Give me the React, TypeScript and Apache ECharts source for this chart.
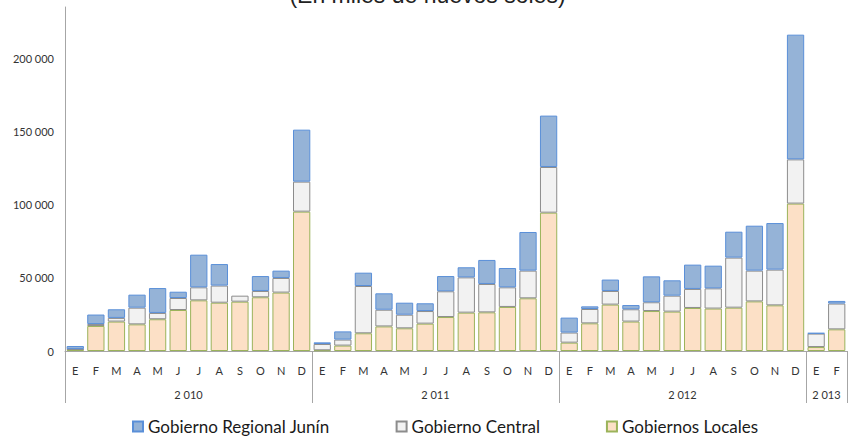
import React, { useEffect, useRef } from "react";
import * as echarts from "echarts";

const months = [
  "E","F","M","A","M","J","J","A","S","O","N","D",
  "E","F","M","A","M","J","J","A","S","O","N","D",
  "E","F","M","A","M","J","J","A","S","O","N","D",
  "E","F",
];
const years = ["2 010", "2 011", "2 012", "2 013"];
const yearBoundaries = [0, 12, 24, 36, 38];
const yearCenters = [6, 18, 30, 37];

const gobiernosLocales = [
  1000, 17100, 20100, 18200, 21700, 28000, 34600, 33000, 33700, 36700, 39900, 95200,
  500, 3700, 12100, 16800, 15500, 18700, 23200, 26200, 26400, 30100, 36000, 94500,
  5700, 18900, 31700, 20100, 27300, 26900, 29400, 29000, 29600, 33900, 31200, 100700,
  2700, 14800,
];
const gobiernoCentral = [
  300, 1300, 2500, 11400, 4300, 8200, 8900, 11700, 4100, 4300, 10000, 20500,
  4300, 4100, 32300, 11400, 9300, 8600, 17600, 24100, 19400, 13400, 18900, 31200,
  6900, 9800, 9300, 8400, 6000, 10900, 13000, 13800, 34200, 21000, 24400, 30200,
  9200, 17600,
];
const gobiernoRegional = [
  2100, 6500, 5900, 8900, 17000, 4300, 22300, 14700, -1400, 10200, 5000, 35500,
  1100, 5600, 9100, 11200, 8200, 5300, 10400, 6900, 16400, 13200, 26400, 35100,
  10200, 1800, 7800, 2900, 17700, 10500, 16600, 15500, 17700, 30700, 31800, 85200,
  400, 1800,
];

const fmt = (v: number) => {
  const s = String(Math.round(v));
  return s.replace(/\B(?=(\d{3})+(?!\d))/g, " ");
};

export default function App() {
  const ref = useRef<HTMLDivElement>(null);
  useEffect(() => {
    if (!ref.current) return;
    const chart = echarts.init(ref.current, null, { renderer: "svg" });
    const axisGray = "#a6a6a6";
    const labelFont = "Lato, 'Noto Sans', sans-serif";
    chart.setOption({
      animation: false,
      backgroundColor: "#ffffff",
      graphic: [
        {
          type: "text",
          left: "center",
          top: -17,
          style: {
            text: "(En miles de nuevos soles)",
            font: "23px 'Liberation Sans', Arial, sans-serif",
            fill: "#222222",
          },
        },
      ],
      legend: {
        left: 132,
        top: 418,
        padding: 0,
        icon: "rect",
        itemWidth: 10,
        itemHeight: 10,
        itemGap: 66,
        textStyle: { fontFamily: labelFont, fontSize: 17, color: "#1a1a1a" },
        data: ["Gobierno Regional Junín", "Gobierno Central", "Gobiernos Locales"],
      },
      grid: { left: 65, right: 8, top: 7, bottom: 88, containLabel: false },
      xAxis: [
        {
          type: "category",
          data: months,
          boundaryGap: true,
          position: "bottom",
          axisLine: { show: true, lineStyle: { color: axisGray, width: 1 } },
          axisTick: { show: false },
          axisLabel: {
            interval: 0,
            margin: 14,
            fontFamily: labelFont,
            fontSize: 11,
            color: "#333333",
          },
        },
        {
          type: "value",
          min: 0,
          max: 38,
          position: "bottom",
          axisLine: { show: false },
          splitLine: { show: false },
          axisTick: {
            show: true,
            inside: false,
            length: 52,
            customValues: yearBoundaries,
            lineStyle: { color: axisGray, width: 1 },
          },
          axisLabel: {
            show: true,
            customValues: yearCenters,
            margin: 38,
            fontFamily: labelFont,
            fontSize: 11,
            color: "#333333",
            formatter: (v: number) => {
              const i = yearCenters.indexOf(v);
              return i >= 0 ? years[i] : "";
            },
          },
        },
      ],
      yAxis: {
        type: "value",
        min: 0,
        max: 235000,
        interval: 50000,
        axisLine: { show: true, lineStyle: { color: axisGray, width: 1 } },
        axisTick: { show: false },
        splitLine: { show: false },
        axisLabel: {
          showMaxLabel: false,
          margin: 11,
          fontFamily: labelFont,
          fontSize: 11,
          color: "#333333",
          formatter: (v: number) => (v % 50000 === 0 ? fmt(v) : ""),
        },
      },
      series: [
        {
          name: "Gobiernos Locales",
          type: "bar",
          stack: "total",
          xAxisIndex: 0,
          barCategoryGap: "16%",
          data: gobiernosLocales,
          itemStyle: { color: "#fce0c6", borderColor: "#9bb35a", borderWidth: 1 },
        },
        {
          name: "Gobierno Central",
          type: "bar",
          stack: "total",
          xAxisIndex: 0,
          barCategoryGap: "16%",
          data: gobiernoCentral,
          itemStyle: { color: "#f2f2f2", borderColor: "#8c8c8c", borderWidth: 1 },
        },
        {
          name: "Gobierno Regional Junín",
          type: "bar",
          stack: "total",
          xAxisIndex: 0,
          barCategoryGap: "16%",
          data: gobiernoRegional,
          itemStyle: { color: "#95b3d7", borderColor: "#5a8fd8", borderWidth: 1 },
        },
      ],
    });
    return () => chart.dispose();
  }, []);
  return <div ref={ref} style={{ width: 855, height: 439, position: "absolute", left: 0, top: 0 }} />;
}
